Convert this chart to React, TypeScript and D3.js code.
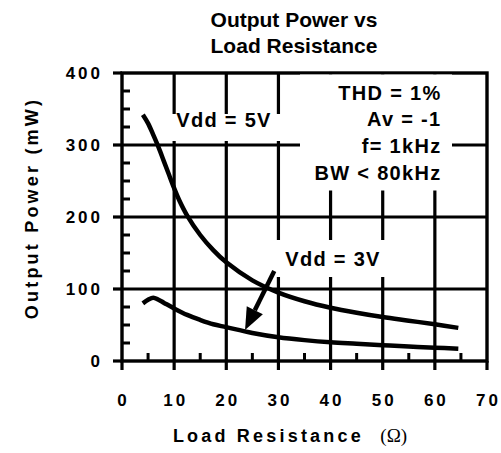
import React from 'react'
import * as d3 from 'd3'

// Output power vs load resistance
const resistance5V = [4, 5, 6, 7, 8, 9, 10, 11, 12.5, 15, 17.5, 20, 25, 30, 35, 40, 45, 50, 55, 60, 64.5]
const power5V = [342, 330, 314, 297, 278, 259, 240, 223, 202, 175, 154, 137, 112, 95, 83, 74, 67, 61, 56, 51, 46]

const resistance3V = [4, 5, 6, 7, 8, 10, 12.5, 15, 17.5, 20, 25, 30, 35, 40, 45, 50, 55, 60, 64.5]
const power3V = [80, 85, 88, 85, 81, 73, 64, 57, 51, 47, 39, 33, 29, 26, 24, 22, 20, 18.5, 17]

const xTicks = [0, 10, 20, 30, 40, 50, 60, 70]
const yTicks = [0, 100, 200, 300, 400]
const xMinor = [5, 15, 25, 35, 45, 55, 65]
const yMinor = [25, 50, 75, 125, 150, 175, 225, 250, 275, 325, 350, 375]

const titleLines = ['Output Power vs', 'Load Resistance']
const conditions = ['THD = 1%', 'Av = -1', 'f= 1kHz', 'BW < 80kHz']
const label5V = 'Vdd = 5V'
const label3V = 'Vdd = 3V'
// arrow from the 3V label down to its curve (ohms, mW)
const arrowFrom = [29.2, 125]
const arrowTo = [23.6, 43]

const font = 'Arial, "Liberation Sans", Helvetica, sans-serif'

export default function App() {
  const width = 501
  const height = 453

  const x = d3.scaleLinear().domain([0, 70]).range([122, 487])
  const y = d3.scaleLinear().domain([0, 400]).range([361, 73])

  const line = d3.line<[number, number]>()
    .x(d => x(d[0]))
    .y(d => y(d[1]))
    .curve(d3.curveCatmullRom.alpha(0.5))

  const pts5 = resistance5V.map((r, i) => [r, power5V[i]] as [number, number])
  const pts3 = resistance3V.map((r, i) => [r, power3V[i]] as [number, number])

  // arrow geometry
  const ax0 = x(arrowFrom[0]), ay0 = y(arrowFrom[1])
  const ax1 = x(arrowTo[0]), ay1 = y(arrowTo[1])
  const ang = Math.atan2(ay1 - ay0, ax1 - ax0)
  const headLen = 22, headW = 9
  const bx = ax1 - headLen * Math.cos(ang), by = ay1 - headLen * Math.sin(ang)
  const head = [
    [ax1, ay1],
    [bx + headW * Math.sin(ang), by - headW * Math.cos(ang)],
    [bx - headW * Math.sin(ang), by + headW * Math.cos(ang)],
  ].map(p => p.join(',')).join(' ')

  const stroke = '#000'

  return (
    <svg width={width} height={height} style={{ position: 'absolute', left: 0, top: 0, background: '#fff' }}
      fontFamily={font} fontWeight="bold">
      {/* grid */}
      {yTicks.slice(1, -1).map(t => (
        <line key={'gy' + t} x1={x(0)} x2={x(70)} y1={y(t)} y2={y(t)} stroke={stroke} strokeWidth={3.2} />
      ))}
      {xTicks.slice(1, -1).map(t => (
        <line key={'gx' + t} x1={x(t)} x2={x(t)} y1={y(0)} y2={y(400)} stroke={stroke} strokeWidth={3.2} />
      ))}
      {/* minor ticks */}
      {yMinor.map(t => (
        <line key={'my' + t} x1={x(0)} x2={x(0) + 8} y1={y(t)} y2={y(t)} stroke={stroke} strokeWidth={3} />
      ))}
      {xMinor.map(t => (
        <line key={'mx' + t} x1={x(t)} x2={x(t)} y1={y(0)} y2={y(0) - 8} stroke={stroke} strokeWidth={3} />
      ))}
      {/* major ticks outward */}
      {yTicks.map(t => (
        <line key={'ty' + t} x1={x(0) - 9} x2={x(0)} y1={y(t)} y2={y(t)} stroke={stroke} strokeWidth={3.2} />
      ))}
      {xTicks.map(t => (
        <line key={'tx' + t} x1={x(t)} x2={x(t)} y1={y(0)} y2={y(0) + 9} stroke={stroke} strokeWidth={3.2} />
      ))}
      {/* frame */}
      <rect x={x(0)} y={y(400)} width={x(70) - x(0)} height={y(0) - y(400)} fill="none" stroke={stroke} strokeWidth={3.4} />

      {/* curves */}
      <path d={line(pts5) || ''} fill="none" stroke={stroke} strokeWidth={4.5} />
      <path d={line(pts3) || ''} fill="none" stroke={stroke} strokeWidth={4.5} />

      {/* label boxes */}
      <rect x={170} y={114} width={114} height={27} fill="#fff" />
      <rect x={300} y={74.5} width={152} height={116} fill="#fff" />
      <rect x={276} y={240} width={112} height={37} fill="#fff" />

      <text x={224} y={127} textAnchor="middle" fontSize={20} letterSpacing={1.3}>{label5V}</text>
      <text x={333} y={266} textAnchor="middle" fontSize={20} letterSpacing={1.3}>{label3V}</text>
      {conditions.map((c, i) => (
        <text key={c} x={441.5} y={99.5 + i * 26.8} textAnchor="end" fontSize={20} letterSpacing={1.3}>{c}</text>
      ))}

      {/* arrow */}
      <line x1={ax0} y1={ay0} x2={bx} y2={by} stroke={stroke} strokeWidth={4.5} />
      <polygon points={head} fill={stroke} />

      {/* tick labels */}
      {yTicks.map(t => (
        <text key={'ly' + t} x={103} y={y(t) + 6.2} textAnchor="end" fontSize={17} letterSpacing={3}>{t}</text>
      ))}
      {xTicks.map(t => (
        <text key={'lx' + t} x={x(t) + 1.5} y={406} textAnchor="middle" fontSize={17} letterSpacing={3}>{t}</text>
      ))}

      {/* axis titles */}
      <text x={290} y={442} textAnchor="middle" fontSize={18} letterSpacing={3.2}>
        Load Resistance{'\u00a0\u00a0'}
        <tspan fontFamily='"Liberation Serif", "Times New Roman", serif' fontWeight="normal" fontSize={19} letterSpacing={0}>({'\u03a9'})</tspan>
      </text>
      <text transform="translate(38,208) rotate(-90)" textAnchor="middle" fontSize={18} letterSpacing={3.2}>Output Power (mW)</text>

      {/* title */}
      {titleLines.map((t, i) => (
        <text key={t} x={294} y={27 + i * 26} textAnchor="middle" fontSize={21}>{t}</text>
      ))}
    </svg>
  )
}
